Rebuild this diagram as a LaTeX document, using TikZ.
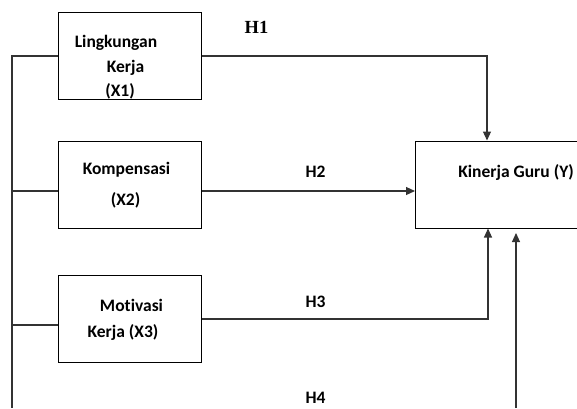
\documentclass[tikz,border=0pt]{standalone}
\usepackage{fontspec}
\setmainfont[Ligatures={NoCommon}]{Carlito}
\newfontfamily\hserif{Liberation Serif}
\usetikzlibrary{positioning,arrows.meta}

\begin{document}
\begin{tikzpicture}[
    x=1pt, y=-1pt,
    >={Triangle[length=9pt,width=8pt]},
    varbox/.style={draw, line width=1pt, inner sep=0pt, minimum width=143pt, minimum height=87pt},
    txt/.style={font=\fontsize{17.5}{20}\selectfont\bfseries, inner sep=0pt},
    hyp/.style={font=\fontsize{17.5}{20}\selectfont\bfseries, inner sep=0pt},
    link/.style={line width=1.1pt, black!80}
]
\useasboundingbox (0,0) rectangle (577,408);

% Variable boxes
\node[varbox] (x1) at (129.5,55.5) {};
\node[varbox] (x2) at (129.5,184.5) {};
\node[varbox] (x3) at (129.5,318.5) {};
\node[varbox, minimum width=200pt, anchor=west] (yk) at (415,184.5) {};

% Box texts
\node[txt] (l1a) at (116,43) {Lingkungan};
\node[txt] (l1b) at (125.5,68) {Kerja};
\node[txt] (l1c) at (120,91) {(X1)};
\node[txt] (l2a) at (126.5,170) {Kompensasi};
\node[txt] (l2b) at (125.5,200) {(X2)};
\node[txt] (l3a) at (131.5,305) {Motivasi};
\node[txt] (l3b) at (123,332) {Kerja (X3)};
\node[txt, anchor=east] (ly) at (574,172) {Kinerja Guru (Y)};

% Hypothesis labels
\node[font=\fontsize{18.5}{21}\selectfont\hserif\bfseries, inner sep=0pt] (h1) at (256.5,27) {H1};
\node[hyp] (h2) at (315.5,172) {H2};
\node[hyp] (h3) at (315.5,302) {H3};
\node[hyp] (h4) at (315.5,398) {H4};

% Joints
\coordinate (j1) at (487,56);
\coordinate (j3) at (488,319);
\coordinate (t1) at (12,56);
\coordinate (t3) at (12,325);
\coordinate (tb) at (12,408);
\coordinate (s4) at (516,408);
\coordinate (e4) at (516,233);

% Left trunk
\draw[link] (x1.west |- t1) -- (t1) -- (tb);
\draw[link] (t1 |- 0,191) -- (x2.west |- 0,191);
\draw[link] (t3) -- (t3 -| x3.west);

% Paths into Kinerja Guru
\draw[link, ->] (x1.east |- j1) -- (j1) -- (j1 |- yk.north);
\draw[link, ->] (x2.east |- 0,191) -- (yk.west |- 0,191);
\draw[link, ->] (x3.east |- j3) -- (j3) -- (j3 |- yk.south);
\draw[link, ->] (s4) -- (e4);

\end{tikzpicture}
\end{document}
